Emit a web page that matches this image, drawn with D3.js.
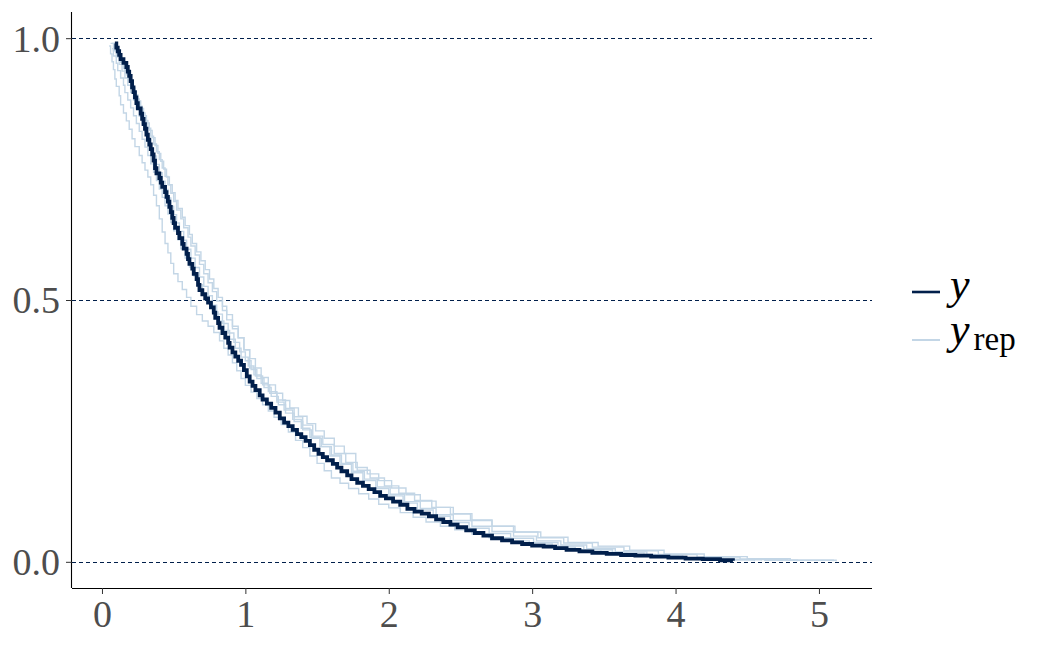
<!DOCTYPE html>
<html>
<head>
<meta charset="utf-8">
<script src="https://cdn.jsdelivr.net/npm/d3@7"></script>
<style>
  body { margin: 0; background: #fff; }
  svg { display: block; }
</style>
</head>
<body>
<svg></svg>
<script>
let yTime = [0.09,0.10,0.11,0.12,0.13,0.15,0.17,0.18,0.19,0.20,0.21,0.22,0.23,0.24,0.25,0.27,0.28,0.29,0.30,0.31,0.32,0.33,0.34,0.35,0.36,0.37,0.38,0.40,0.41,0.42,0.44,0.45,0.46,0.47,0.48,0.49,0.50,0.51,0.53,0.54,0.56,0.57,0.59,0.60,0.61,0.63,0.64,0.66,0.67,0.68,0.70,0.72,0.74,0.76,0.78,0.79,0.81,0.82,0.84,0.86,0.88,0.89,0.91,0.93,0.95,0.97,0.99,1.01,1.03,1.05,1.07,1.10,1.12,1.15,1.18,1.21,1.24,1.27,1.30,1.33,1.36,1.39,1.42,1.45,1.48,1.51,1.54,1.57,1.61,1.64,1.67,1.71,1.74,1.78,1.82,1.86,1.90,1.94,1.98,2.03,2.08,2.13,2.18,2.23,2.28,2.33,2.38,2.43,2.48,2.54,2.60,2.66,2.72,2.79,2.86,2.93,3.00,3.08,3.16,3.24,3.33,3.42,3.52,3.62,3.72,3.83,3.95,4.07,4.19,4.31,4.40];
let ySurv = [0.990,0.982,0.975,0.968,0.960,0.953,0.945,0.936,0.928,0.918,0.906,0.897,0.887,0.876,0.866,0.856,0.846,0.836,0.827,0.816,0.806,0.797,0.788,0.778,0.766,0.752,0.742,0.733,0.724,0.716,0.706,0.697,0.688,0.678,0.668,0.657,0.647,0.638,0.628,0.618,0.607,0.598,0.588,0.578,0.569,0.560,0.550,0.540,0.529,0.519,0.511,0.503,0.495,0.486,0.476,0.466,0.456,0.447,0.437,0.428,0.418,0.409,0.400,0.392,0.384,0.376,0.366,0.354,0.344,0.336,0.328,0.318,0.310,0.302,0.294,0.285,0.274,0.266,0.259,0.252,0.244,0.238,0.231,0.223,0.214,0.206,0.200,0.194,0.187,0.180,0.173,0.165,0.158,0.151,0.145,0.139,0.133,0.126,0.121,0.115,0.109,0.101,0.096,0.092,0.087,0.081,0.076,0.071,0.066,0.060,0.055,0.050,0.045,0.041,0.037,0.034,0.031,0.029,0.026,0.023,0.020,0.017,0.015,0.013,0.012,0.010,0.008,0.006,0.005,0.003,0.002];

// replicated KM curves
let rep1Time = [0.05,0.06,0.07,0.08,0.09,0.10,0.12,0.13,0.15,0.17,0.19,0.21,0.23,0.26,0.28,0.30,0.32,0.34,0.36,0.38,0.40,0.42,0.44,0.46,0.48,0.50,0.53,0.56,0.59,0.62,0.66,0.70,0.74,0.78,0.82,0.85,0.88,0.91,0.94,0.97,1.00,1.04,1.08,1.12,1.16,1.20,1.25,1.30,1.35,1.40,1.45,1.50,1.55,1.60,1.66,1.72,1.79,1.86,1.93,2.00,2.08,2.17,2.26,2.36,2.46,2.58,2.70,2.84,2.98,3.14,3.30,3.48,3.66,3.86,4.06,4.28,4.55];
let rep1Surv = [0.985,0.970,0.955,0.940,0.922,0.908,0.890,0.873,0.857,0.842,0.826,0.808,0.793,0.776,0.762,0.748,0.735,0.720,0.700,0.680,0.655,0.630,0.608,0.590,0.570,0.550,0.535,0.520,0.505,0.488,0.472,0.460,0.450,0.438,0.422,0.408,0.395,0.380,0.365,0.350,0.337,0.324,0.312,0.300,0.288,0.276,0.262,0.248,0.232,0.218,0.202,0.188,0.174,0.160,0.150,0.140,0.130,0.120,0.110,0.103,0.094,0.085,0.076,0.068,0.061,0.053,0.046,0.040,0.034,0.028,0.023,0.018,0.014,0.010,0.007,0.004,0.001];
let rep2Time = [0.07,0.09,0.11,0.13,0.15,0.17,0.19,0.21,0.23,0.25,0.27,0.29,0.31,0.33,0.35,0.37,0.39,0.41,0.43,0.45,0.47,0.49,0.51,0.53,0.56,0.58,0.61,0.63,0.66,0.69,0.72,0.75,0.78,0.81,0.84,0.87,0.91,0.95,0.99,1.03,1.07,1.11,1.16,1.21,1.26,1.31,1.37,1.43,1.49,1.55,1.62,1.69,1.77,1.85,1.93,2.02,2.12,2.22,2.33,2.45,2.58,2.72,2.87,3.04,3.22,3.42,3.64,3.88,4.15,4.45,4.78,5.10];
let rep2Surv = [0.990,0.978,0.966,0.954,0.942,0.930,0.918,0.905,0.892,0.880,0.866,0.852,0.838,0.824,0.810,0.795,0.780,0.765,0.750,0.735,0.720,0.705,0.690,0.675,0.658,0.642,0.625,0.608,0.592,0.575,0.558,0.540,0.522,0.505,0.488,0.472,0.450,0.428,0.405,0.388,0.370,0.352,0.338,0.322,0.308,0.294,0.278,0.264,0.250,0.236,0.221,0.207,0.180,0.168,0.155,0.141,0.128,0.116,0.104,0.092,0.080,0.068,0.057,0.046,0.036,0.028,0.021,0.014,0.009,0.005,0.003,0.001];
let rep3Time = [0.08,0.10,0.12,0.14,0.16,0.18,0.20,0.22,0.24,0.26,0.28,0.30,0.32,0.34,0.36,0.38,0.40,0.42,0.44,0.46,0.48,0.50,0.52,0.55,0.57,0.60,0.62,0.65,0.68,0.71,0.74,0.77,0.80,0.84,0.87,0.91,0.95,0.99,1.03,1.07,1.12,1.17,1.22,1.27,1.33,1.39,1.45,1.52,1.59,1.66,1.74,1.82,1.91,2.00,2.10,2.20,2.31,2.43,2.56,2.70,2.85,3.01,3.18,3.36,3.56,3.78,4.02,4.30,4.60];
let rep3Surv = [0.985,0.975,0.962,0.950,0.938,0.925,0.912,0.898,0.884,0.870,0.857,0.843,0.828,0.813,0.798,0.783,0.768,0.752,0.736,0.720,0.704,0.688,0.672,0.655,0.638,0.620,0.603,0.586,0.568,0.550,0.533,0.516,0.498,0.480,0.462,0.445,0.428,0.405,0.370,0.355,0.338,0.322,0.305,0.290,0.272,0.255,0.238,0.220,0.202,0.186,0.170,0.155,0.140,0.126,0.112,0.099,0.087,0.075,0.064,0.054,0.045,0.037,0.030,0.023,0.017,0.012,0.008,0.004,0.002];
let rep4Time = [0.06,0.08,0.10,0.12,0.14,0.16,0.18,0.20,0.22,0.24,0.26,0.28,0.30,0.32,0.34,0.36,0.38,0.40,0.42,0.44,0.46,0.48,0.50,0.52,0.54,0.57,0.59,0.62,0.65,0.68,0.71,0.74,0.77,0.80,0.84,0.88,0.92,0.96,1.00,1.04,1.08,1.13,1.18,1.23,1.28,1.34,1.40,1.46,1.53,1.60,1.67,1.75,1.83,1.92,2.01,2.11,2.22,2.33,2.45,2.58,2.72,2.87,3.03,3.20,3.38,3.58,3.80,4.05,4.33,4.62,4.85];
let rep4Surv = [0.990,0.976,0.964,0.950,0.937,0.924,0.910,0.896,0.882,0.866,0.851,0.836,0.821,0.806,0.790,0.775,0.759,0.743,0.727,0.711,0.695,0.679,0.663,0.647,0.631,0.614,0.597,0.580,0.562,0.544,0.526,0.508,0.490,0.473,0.455,0.437,0.419,0.401,0.384,0.367,0.350,0.333,0.316,0.300,0.284,0.268,0.252,0.236,0.220,0.204,0.188,0.173,0.158,0.143,0.129,0.115,0.102,0.090,0.079,0.068,0.058,0.049,0.040,0.032,0.025,0.019,0.013,0.008,0.005,0.003,0.001];
let rep5Time = [0.07,0.08,0.10,0.11,0.13,0.15,0.16,0.18,0.20,0.22,0.24,0.26,0.28,0.30,0.32,0.34,0.36,0.38,0.40,0.42,0.44,0.46,0.48,0.50,0.53,0.55,0.58,0.61,0.64,0.67,0.70,0.74,0.77,0.81,0.85,0.89,0.93,0.97,1.02,1.06,1.11,1.16,1.22,1.28,1.34,1.40,1.47,1.54,1.62,1.70,1.78,1.87,1.97,2.07,2.18,2.30,2.43,2.57,2.72,2.88,3.06,3.25,3.46,3.68,3.92,4.20,4.50,4.80,5.12];
let rep5Surv = [0.980,0.966,0.952,0.938,0.924,0.910,0.896,0.882,0.867,0.852,0.837,0.822,0.807,0.792,0.776,0.760,0.744,0.728,0.712,0.696,0.680,0.664,0.648,0.632,0.615,0.598,0.580,0.563,0.546,0.529,0.512,0.494,0.477,0.460,0.442,0.425,0.408,0.391,0.374,0.357,0.341,0.325,0.309,0.293,0.277,0.261,0.240,0.224,0.207,0.190,0.175,0.160,0.145,0.131,0.117,0.104,0.091,0.079,0.068,0.057,0.047,0.037,0.030,0.022,0.015,0.010,0.006,0.003,0.001];

let xTicks = [0, 1, 2, 3, 4, 5];
let yTicks = [0, 0.5, 1];

const w = 1050;
const h = 648;
const padL = 72, padR = 872, padT = 12, padB = 588;
const darkCol = '#011f4b';
const lightCol = '#c3d6e6';

let svg = d3.select('svg').attr('width', w).attr('height', h);

let xSc = d3.scaleLinear().domain([-0.209, 5.37]).range([padL, padR]);
let ySc = d3.scaleLinear().domain([-0.05, 1.05]).range([padB, padT]);

// dashed reference lines
svg.selectAll('line.grid')
   .data(yTicks)
   .enter()
   .append('line')
   .attr('class', 'grid')
   .attr('x1', padL)
   .attr('x2', padR)
   .attr('y1', d => Math.round(ySc(d)) + 0.5)
   .attr('y2', d => Math.round(ySc(d)) + 0.5)
   .attr('stroke', darkCol)
   .attr('stroke-width', 1)
   .attr('stroke-dasharray', '4,3')
   .style('shape-rendering', 'crispEdges');

let pairUp = (ts, ss) => ts.map((t, i) => [t, ss[i]]);

let line = d3.line()
             .x(d => xSc(d[0]))
             .y(d => ySc(d[1]))
             .curve(d3.curveStepAfter);

let reps = [
  pairUp(rep1Time, rep1Surv),
  pairUp(rep2Time, rep2Surv),
  pairUp(rep3Time, rep3Surv),
  pairUp(rep4Time, rep4Surv),
  pairUp(rep5Time, rep5Surv)
];

svg.selectAll('path.rep')
   .data(reps)
   .enter()
   .append('path')
   .attr('class', 'rep')
   .attr('d', line)
   .attr('fill', 'none')
   .attr('stroke', lightCol)
   .attr('stroke-width', 1.4);

svg.append('path')
   .datum(pairUp(yTime, ySurv))
   .attr('d', line)
   .attr('fill', 'none')
   .attr('stroke', darkCol)
   .attr('stroke-width', 3.8);

// axes
let xAxis = d3.axisBottom(xSc).tickValues(xTicks).tickFormat(d3.format('d')).tickSize(6).tickPadding(6);
let gx = svg.append('g')
   .attr('transform', 'translate(0,' + padB + ')')
   .call(xAxis);
gx.select('.domain').attr('d', 'M' + padL + ',0.5H' + padR).attr('stroke', '#000').attr('stroke-width', 1.1);
gx.selectAll('.tick line').attr('stroke', '#333');
gx.selectAll('.tick text')
  .attr('fill', '#4d4d4d')
  .style('font-family', '"Liberation Serif", serif')
  .style('font-size', '38px')
  .attr('dy', '0.71em');

let yAxis = d3.axisLeft(ySc).tickValues(yTicks).tickFormat(d3.format('.1f')).tickSize(6).tickPadding(6);
let gy = svg.append('g')
   .attr('transform', 'translate(' + padL + ',0)')
   .call(yAxis);
gy.select('.domain').attr('d', 'M-0.5,' + padT + 'V' + padB).attr('stroke', '#000').attr('stroke-width', 1.1);
gy.selectAll('.tick line').attr('stroke', '#333');
gy.selectAll('.tick text')
  .attr('fill', '#4d4d4d')
  .style('font-family', '"Liberation Serif", serif')
  .style('font-size', '38px')
  .attr('dy', '0.34em');

// legend
let legend = svg.append('g').style('font-family', '"Liberation Serif", serif');
legend.append('line')
      .attr('x1', 912).attr('x2', 940).attr('y1', 292).attr('y2', 292)
      .attr('stroke', darkCol).attr('stroke-width', 2.6);
legend.append('text')
      .attr('x', 950).attr('y', 299)
      .style('font-size', '44px').style('font-style', 'italic')
      .attr('fill', '#000')
      .text('y');
legend.append('line')
      .attr('x1', 912).attr('x2', 940).attr('y1', 340).attr('y2', 340)
      .attr('stroke', lightCol).attr('stroke-width', 2);
let lt = legend.append('text')
      .attr('x', 950).attr('y', 344)
      .attr('fill', '#000');
lt.append('tspan').style('font-size', '44px').style('font-style', 'italic').text('y');
lt.append('tspan').attr('dx', 4).attr('dy', 6).style('font-size', '33px').text('rep');
</script>
</body>
</html>
